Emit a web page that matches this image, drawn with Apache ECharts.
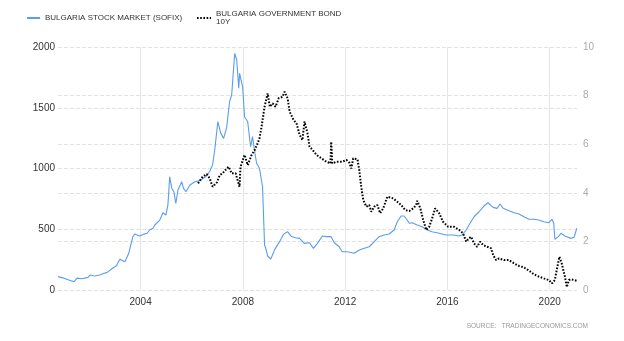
<!DOCTYPE html>
<html>
<head>
<meta charset="utf-8">
<script src="https://cdn.jsdelivr.net/npm/echarts@6/dist/echarts.min.js"></script>
<style>
  html, body { margin: 0; padding: 0; background: #fff; }
  #chart { width: 624px; height: 341px; }
</style>
</head>
<body>
<div id="chart"></div>
<script>
// SOFIX index level (left axis)
var sofixDates = [
  '2000-10-08','2000-12-15','2001-03-01','2001-05-25','2001-07-05','2001-09-15','2001-12-10',
  '2002-01-08','2002-03-15','2002-05-28','2002-07-20','2002-09-10','2002-12-01',
  '2003-01-20','2003-03-10','2003-05-22','2003-07-16','2003-09-12','2003-10-12','2003-11-20','2003-12-20',
  '2004-02-20','2004-04-01','2004-05-10','2004-06-25','2004-07-22','2004-10-01','2004-11-15','2004-12-28',
  '2005-01-25','2005-02-20','2005-03-20','2005-04-20','2005-05-18','2005-06-18','2005-08-10','2005-09-05',
  '2005-10-10','2005-12-05','2006-02-15','2006-04-22','2006-07-20','2006-09-12','2006-10-25','2006-11-25',
  '2007-01-08','2007-02-20','2007-04-01','2007-05-15','2007-06-25','2007-07-25','2007-09-06','2007-10-05',
  '2007-11-03','2007-11-15','2007-12-28','2008-01-25','2008-03-10','2008-04-20','2008-05-18','2008-06-18',
  '2008-07-15','2008-08-25','2008-10-08','2008-10-22','2008-11-06','2008-11-22','2008-12-20',
  '2009-02-03','2009-03-28','2009-06-10','2009-08-05','2009-10-01','2009-11-25',
  '2010-01-22','2010-03-20','2010-05-28','2010-08-10','2010-10-05','2010-12-01',
  '2011-02-10','2011-04-08','2011-06-15','2011-07-30','2011-10-08','2011-11-20',
  '2012-02-01','2012-05-10','2012-07-20','2012-10-01','2012-12-10',
  '2013-02-20','2013-05-01','2013-07-12','2013-09-20','2013-12-01',
  '2014-01-15','2014-03-10','2014-04-22','2014-06-05','2014-07-05','2014-08-15','2014-10-26',
  '2015-01-04','2015-03-18','2015-05-26','2015-09-05','2015-12-12',
  '2016-04-05','2016-06-01','2016-07-30','2016-09-25','2016-11-05',
  '2017-01-15','2017-03-28','2017-06-05','2017-08-03','2017-10-15','2017-12-10',
  '2018-01-01','2018-01-22','2018-03-08','2018-05-30','2018-08-08','2018-10-20','2018-12-28',
  '2019-03-10','2019-05-18','2019-07-30','2019-10-08','2019-12-20',
  '2020-02-01','2020-02-28','2020-03-15','2020-05-10','2020-06-10','2020-08-05','2020-10-30','2020-12-15',
  '2021-01-22'
];
var sofixValues = [
  110,100,85,68,98,92,104,
  123,115,123,135,145,181,
  200,253,233,302,439,461,450,444,
  460,467,494,508,535,576,636,617,
  700,932,840,809,713,823,891,837,
  809,864,891,900,932,973,1029,1152,
  1385,1289,1248,1339,1550,1605,1948,1893,
  1660,1783,1673,1426,1385,1179,1262,1138,
  1043,1002,850,617,370,343,280,
  255,330,400,460,480,440,
  430,425,384,389,343,384,
  444,439,439,389,356,315,
  315,302,329,343,356,
  398,439,453,461,494,
  562,609,609,576,549,554,535,
  521,494,480,467,453,
  453,444,453,494,535,
  603,644,691,718,680,672,
  672,708,672,653,636,625,603,
  582,582,576,562,554,
  582,549,417,444,467,444,425,434,
  508
];

// 10Y government bond yield, % (right axis)
var bondDates = [
  '2006-04-01','2006-06-05','2006-08-03','2006-09-12','2006-10-26','2006-12-24',
  '2007-02-05','2007-03-18','2007-05-15','2007-06-14','2007-07-24','2007-09-20',
  '2007-11-14','2007-11-28','2008-01-25','2008-03-10','2008-05-05','2008-06-18',
  '2008-07-30','2008-08-25','2008-09-24','2008-11-06','2008-12-20',
  '2009-01-20','2009-03-01','2009-04-12','2009-05-26','2009-07-20','2009-08-18',
  '2009-10-01','2009-10-30','2009-12-24','2010-02-05','2010-03-20','2010-05-01',
  '2010-05-30','2010-07-12','2010-08-10','2010-09-24','2010-11-18',
  '2011-01-26','2011-04-08','2011-06-05','2011-06-16','2011-07-01','2011-08-30','2011-11-20',
  '2012-01-20','2012-03-01','2012-03-28','2012-04-26','2012-06-25','2012-07-20',
  '2012-08-18','2012-09-16','2012-10-30','2012-12-10',
  '2013-01-08','2013-02-20','2013-04-05','2013-05-15','2013-06-28','2013-08-26',
  '2013-09-20','2013-11-18','2014-01-15','2014-03-10','2014-05-08','2014-07-05',
  '2014-08-30','2014-10-12','2014-10-26','2014-12-10',
  '2015-01-20','2015-03-05','2015-04-16','2015-05-28','2015-07-10','2015-09-05','2015-10-30',
  '2016-01-12','2016-04-05','2016-06-18','2016-08-12','2016-09-25','2016-11-05','2016-12-05',
  '2017-01-15','2017-02-28','2017-04-12','2017-05-25','2017-07-20','2017-09-15','2017-10-15','2017-11-25',
  '2018-01-08','2018-03-18','2018-05-30','2018-08-08','2018-10-20','2018-12-28',
  '2019-03-10','2019-05-18','2019-07-30','2019-10-08','2019-12-20',
  '2020-02-03','2020-03-14','2020-05-18','2020-06-20','2020-08-05','2020-09-02',
  '2020-10-01','2020-10-30','2020-12-15','2021-01-22'
];
var bondValues = [
  4.39,4.66,4.77,4.60,4.25,4.42,
  4.73,4.80,5.00,5.07,4.80,4.80,
  4.25,5.07,5.56,5.14,5.56,5.76,
  6.04,6.24,6.72,7.54,8.09,
  7.54,7.68,7.54,7.89,7.95,8.16,
  7.89,7.34,7.00,6.86,6.40,6.17,
  6.93,6.45,5.90,5.76,5.56,
  5.42,5.28,5.21,6.10,5.21,5.28,5.28,
  5.35,5.24,5.00,5.42,5.38,4.94,
  4.25,3.70,3.43,3.50,
  3.22,3.43,3.50,3.16,3.36,3.84,
  3.91,3.77,3.63,3.50,3.29,3.25,
  3.36,3.50,3.67,3.36,
  2.88,2.47,2.60,2.95,3.36,3.16,2.81,
  2.60,2.60,2.47,2.33,1.99,2.13,2.19,
  1.92,1.78,1.99,1.85,1.78,1.72,1.44,1.23,
  1.30,1.23,1.23,1.10,0.99,0.93,
  0.80,0.65,0.55,0.48,0.41,
  0.27,0.41,1.37,1.10,0.55,0.12,
  0.41,0.44,0.41,0.38
];

var yearTicks = ['2004-01-01','2008-01-01','2012-01-01','2016-01-01','2020-01-01'];
var xStart = '2000-10-08';
var xEnd = '2021-01-25';

var sofixName = 'BULGARIA STOCK MARKET (SOFIX)';
var bondName = 'BULGARIA GOVERNMENT BOND 10Y';

var blue = '#5a9cf0';
var bondDash = [1.6, 1.6];
var font = 'Liberation Sans, Arial, sans-serif';

function ts(d) { return Date.parse(d + 'T00:00:00Z'); }
function pairs(dates, values) {
  return dates.map(function (d, i) { return [ts(d), values[i]]; });
}

var chart = echarts.init(document.getElementById('chart'), null, { renderer: 'canvas' });
var tickTimes = yearTicks.map(ts);

chart.setOption({
  animation: false,
  backgroundColor: '#ffffff',
  textStyle: { fontFamily: font },
  grid: { left: 58, right: 47, top: 47, bottom: 51, containLabel: false },
  xAxis: {
    type: 'value',
    min: ts(xStart),
    max: ts(xEnd),
    axisLine: { show: false },
    axisTick: { show: false, customValues: tickTimes },
    axisLabel: {
      customValues: tickTimes,
      color: '#333',
      fontSize: 10,
      margin: 7,
      formatter: function (v) { return String(new Date(v).getUTCFullYear()); }
    },
    splitLine: { show: true, lineStyle: { color: '#e6e6e6', width: 1 } }
  },
  yAxis: [
    {
      type: 'value',
      min: 0, max: 2000, interval: 500,
      axisLine: { show: false },
      axisTick: { show: false },
      axisLabel: { color: '#333', fontSize: 10, margin: 3, formatter: function (v) { return String(v); } },
      splitLine: { lineStyle: { color: '#e2e2e2', type: 'dashed', width: 1 } }
    },
    {
      type: 'value',
      min: 0, max: 10, interval: 2,
      position: 'right',
      axisLine: { show: false },
      axisTick: { show: false },
      axisLabel: { color: '#aaaaaa', fontSize: 10, margin: 6 },
      splitLine: { lineStyle: { color: '#e2e2e2', type: 'dashed', width: 1 } }
    }
  ],
  series: [
    {
      name: sofixName,
      type: 'line',
      yAxisIndex: 0,
      showSymbol: false,
      symbol: 'none',
      lineStyle: { color: blue, width: 1.1 },
      itemStyle: { color: blue },
      data: pairs(sofixDates, sofixValues)
    },
    {
      name: bondName,
      type: 'line',
      yAxisIndex: 1,
      showSymbol: false,
      symbol: 'none',
      lineStyle: { color: '#000000', width: 2, type: bondDash },
      itemStyle: { color: '#000000' },
      data: pairs(bondDates, bondValues)
    }
  ],
  graphic: [
    // legend: SOFIX
    {
      type: 'line',
      shape: { x1: 27, y1: 18, x2: 40, y2: 18 },
      style: { stroke: blue, lineWidth: 2 }
    },
    {
      type: 'text',
      x: 45, y: 18,
      style: { text: sofixName, fill: '#333', font: '8px ' + font, verticalAlign: 'middle' }
    },
    // legend: bond yield
    {
      type: 'line',
      shape: { x1: 197, y1: 18, x2: 211, y2: 18 },
      style: { stroke: '#000', lineWidth: 2, lineDash: bondDash }
    },
    {
      type: 'text',
      x: 216, y: 18,
      style: {
        text: 'BULGARIA GOVERNMENT BOND\n10Y',
        fill: '#333', font: '8px ' + font, lineHeight: 8.5, verticalAlign: 'middle'
      }
    },
    {
      type: 'text',
      right: 36,
      top: 323,
      style: {
        text: 'SOURCE:   TRADINGECONOMICS.COM',
        fill: '#999999',
        font: '6.5px ' + font
      }
    }
  ]
});
</script>
</body>
</html>
